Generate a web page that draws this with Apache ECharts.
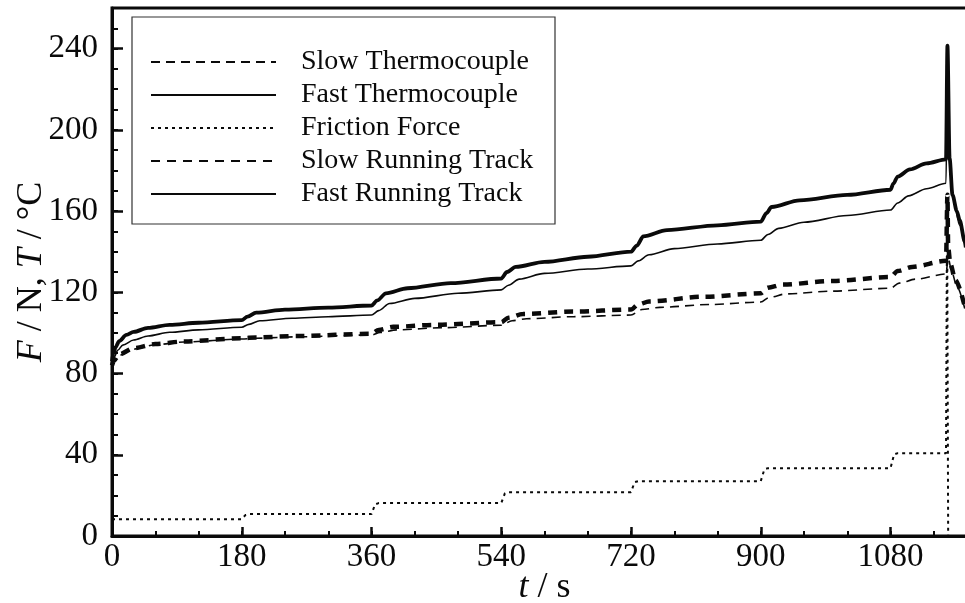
<!DOCTYPE html>
<html>
<head>
<meta charset="utf-8">
<script src="https://cdn.jsdelivr.net/npm/echarts@6/dist/echarts.min.js"></script>
<style>
  html, body { margin: 0; padding: 0; background: #fff; }
  #chart { width: 965px; height: 603px; }
</style>
</head>
<body>
<div id="chart"></div>
<script>
// Series names (legend order)
const seriesNames = ['Slow Thermocouple', 'Fast Thermocouple', 'Friction Force', 'Slow Running Track', 'Fast Running Track'];

// Slow thermocouple temperature, °C
const tSlowTC = [0, 3, 10, 30, 60, 100, 180, 200, 260, 360, 372, 395, 460, 540, 555, 575, 640, 720, 735, 760, 830, 900, 912, 935, 1000, 1080, 1092, 1115, 1157, 1160, 1165, 1172, 1183];
const slowTC  = [83.5, 86, 89, 92, 94.2, 95.5, 97, 97.4, 98.1, 99, 100.2, 101.5, 102.6, 103.8, 106, 107, 108, 108.8, 111.5, 112.6, 114, 115.2, 117.5, 119.2, 120.6, 122, 124.5, 126.5, 129, 137, 130, 123, 112];

// Fast thermocouple temperature, °C
const tFastTC = [0, 3, 8, 15, 30, 50, 80, 120, 180, 190, 205, 250, 300, 360, 370, 385, 420, 480, 540, 550, 565, 600, 660, 720, 730, 745, 780, 840, 900, 910, 925, 960, 1020, 1080, 1090, 1105, 1130, 1157, 1159, 1163, 1167, 1176, 1183];
const fastTC  = [85, 88, 91.5, 94, 96.5, 98.5, 100.3, 101.5, 102.8, 104.2, 106, 107.2, 108, 108.8, 111, 114.5, 117, 119.5, 121.2, 123.5, 126.5, 129.3, 131.5, 133, 135.5, 138.5, 141.5, 143.8, 145.6, 148.5, 151.5, 154.5, 157.8, 160.5, 164, 167.5, 171, 173.7, 230, 182, 166, 153, 142];

// Friction force, N
const tFriction = [0, 180, 185, 190, 360, 365, 370, 540, 545, 550, 720, 725, 730, 900, 905, 910, 1080, 1085, 1090, 1157, 1158.5, 1160];
const friction  = [8.3, 8.3, 10.3, 10.8, 10.8, 15.6, 16.2, 16.2, 21, 21.6, 21.6, 26.5, 27, 27, 32.8, 33.4, 33.4, 40.2, 40.8, 40.8, 165, 0];

// Slow running track temperature, °C
const tSlowTrack = [0, 3, 10, 30, 60, 100, 180, 200, 260, 360, 370, 390, 450, 540, 550, 570, 640, 720, 730, 745, 820, 900, 910, 930, 1000, 1080, 1090, 1110, 1157, 1159, 1160, 1163, 1170, 1183];
const slowTrack  = [84, 86.5, 89.5, 92.5, 94.5, 95.8, 97.4, 97.8, 98.5, 99.6, 101.5, 103, 104, 105.3, 107.5, 109.3, 110.5, 111.5, 114, 115.5, 117.8, 119.5, 122.3, 123.8, 125.6, 127.5, 130.5, 132.5, 135.5, 168, 142, 134, 126, 113];

// Fast running track temperature, °C
const tFastTrack = [0, 2, 5, 10, 20, 30, 50, 80, 120, 180, 188, 200, 240, 300, 360, 368, 380, 410, 470, 540, 548, 560, 600, 660, 720, 728, 737, 770, 840, 900, 908, 915, 954, 1020, 1080, 1084, 1090, 1107, 1130, 1157, 1159, 1162, 1166, 1172, 1176, 1183, 1190];
const fastTrack  = [86, 90, 93, 96, 99, 100.5, 102.5, 104, 105, 106.3, 108, 110, 111.5, 112.5, 113.5, 116, 119.5, 122, 124.5, 126.8, 130, 132.5, 135, 137.5, 140, 143, 147.5, 150.6, 153, 154.8, 159, 162, 165.3, 168, 170.5, 173.5, 177, 180.5, 183.5, 185.5, 241.5, 186, 168, 160, 155.5, 145, 138];

// Axis ticks
const xMax = 1200, xStep = 180, xMinorStep = 60;
const yMax = 260, yStep = 40, yMinorStep = 10;

const pairs = (t, v) => t.map((x, i) => [x, v[i]]);

const serif = '"Liberation Serif", "Times New Roman", serif';
const ink = '#0a0a0a';

const chart = echarts.init(document.getElementById('chart'), null, { renderer: 'canvas' });

const lineSeries = (name, t, v, lineStyle, smooth) => ({
  name,
  type: 'line',
  data: pairs(t, v),
  xAxisIndex: 0,
  yAxisIndex: 0,
  symbol: 'none',
  showSymbol: false,
  smooth: smooth ? 0.3 : false,
  smoothMonotone: 'x',
  lineStyle: Object.assign({ color: ink }, lineStyle),
  itemStyle: { color: ink },
  emphasis: { disabled: true },
  z: 2
});

chart.setOption({
  animation: false,
  backgroundColor: '#fff',
  grid: {
    left: 112, top: 8, width: 865, height: 528,
    outerBoundsMode: 'none',
    containLabel: false,
    show: true, borderColor: ink, borderWidth: 3, backgroundColor: 'transparent'
  },
  graphic: [{
    type: 'rect',
    z: 3,
    shape: { x: 132, y: 17, width: 423, height: 207 },
    style: { fill: '#fff', stroke: '#333', lineWidth: 1.2 }
  }],
  legend: {
    data: seriesNames,
    orient: 'vertical',
    left: 150,
    top: 48,
    padding: 0,
    itemWidth: 125,
    itemHeight: 28,
    itemGap: 5,
    selectedMode: false,
    z: 5,
    itemStyle: { opacity: 0 },
    textStyle: { fontFamily: serif, fontSize: 28, color: ink, padding: [0, 0, 0, 20] }
  },
  xAxis: [{
    type: 'value', min: 0, max: xMax, interval: xStep,
    position: 'bottom',
    name: '{i|t} / s',
    nameLocation: 'middle',
    nameGap: 34,
    nameMoveOverlap: false,
    nameTextStyle: {
      fontFamily: serif, fontSize: 36, color: ink,
      rich: { i: { fontFamily: serif, fontSize: 36, fontStyle: 'italic', color: ink } }
    },
    axisLine: { show: true, lineStyle: { color: ink, width: 3 } },
    axisTick: { show: true, inside: true, length: 9, lineStyle: { color: ink, width: 2.5 } },
    axisLabel: {
      show: true, showMaxLabel: false, margin: 5,
      fontFamily: serif, fontSize: 33, color: ink,
      formatter: v => String(v)
    },
    splitLine: { show: false }
  }, {
    type: 'value', min: 0, max: xMax, interval: xMinorStep,
    position: 'bottom',
    axisLine: { show: false },
    axisTick: { show: true, inside: true, length: 5, lineStyle: { color: ink, width: 2 } },
    axisLabel: { show: false },
    splitLine: { show: false }
  }],
  yAxis: [{
    type: 'value', min: 0, max: yMax, interval: yStep,
    position: 'left',
    name: '{i|F} / N, {i|T} / °C',
    nameLocation: 'middle',
    nameRotate: 90,
    nameGap: 62,
    nameMoveOverlap: false,
    nameTextStyle: {
      fontFamily: serif, fontSize: 36, color: ink,
      rich: { i: { fontFamily: serif, fontSize: 36, fontStyle: 'italic', color: ink } }
    },
    axisLine: { show: true, lineStyle: { color: ink, width: 3 } },
    axisTick: { show: true, inside: true, length: 11, lineStyle: { color: ink, width: 2.5 } },
    axisLabel: {
      show: true, showMaxLabel: false, margin: 14,
      fontFamily: serif, fontSize: 33, color: ink,
      formatter: v => String(v)
    },
    splitLine: { show: false }
  }, {
    type: 'value', min: 0, max: yMax, interval: yMinorStep,
    position: 'left',
    axisLine: { show: false },
    axisTick: { show: true, inside: true, length: 6, lineStyle: { color: ink, width: 2 } },
    axisLabel: { show: false },
    splitLine: { show: false }
  }],
  series: [
    lineSeries(seriesNames[0], tSlowTC, slowTC, { width: 1.6, type: [9, 6] }, true),
    lineSeries(seriesNames[1], tFastTC, fastTC, { width: 1.6, type: 'solid' }, true),
    lineSeries(seriesNames[2], tFriction, friction, { width: 2, type: [3, 4] }, false),
    lineSeries(seriesNames[3], tSlowTrack, slowTrack, { width: 4.5, type: [9, 7] }, true),
    lineSeries(seriesNames[4], tFastTrack, fastTrack, { width: 3.8, type: 'solid' }, true)
  ]
});
</script>
</body>
</html>
